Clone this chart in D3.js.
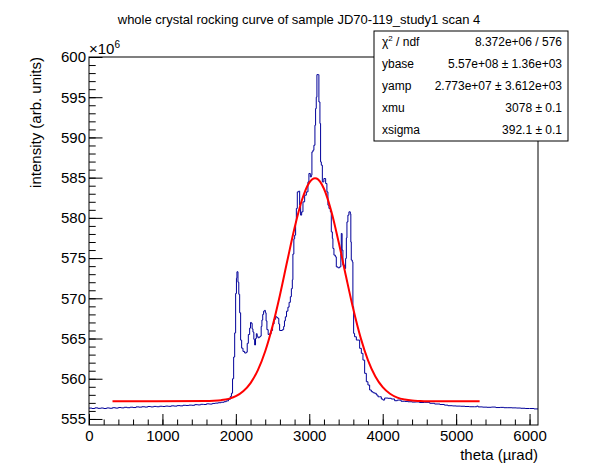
<!DOCTYPE html>
<html>
<head>
<meta charset="utf-8">
<script src="https://cdn.jsdelivr.net/npm/d3@7/dist/d3.min.js"></script>
<style>
  html, body { margin: 0; padding: 0; background: #ffffff; }
  svg { display: block; }
  text { font-family: "Liberation Sans", Arial, Helvetica, sans-serif; fill: #000; }
</style>
</head>
<body>
<svg id="chart" width="598" height="474"></svg>
<script>
// ---------------- data ----------------
const chartTitle = "whole crystal rocking curve of sample JD70-119_study1 scan 4";
const xTitle = "theta (\u00b5rad)";
const yTitle = "intensity (arb. units)";

// histogram: theta (µrad) and intensity (×10^6)
const histTheta = [
  0, 40, 80, 120, 160, 200, 240, 280, 320, 360, 400, 440, 480, 520, 560, 600, 640, 680, 720, 760,
  800, 840, 880, 920, 960, 1000, 1040, 1080, 1120, 1160, 1200, 1240, 1280, 1320, 1360, 1400, 1440, 1480, 1520, 1560,
  1600, 1640, 1680, 1720, 1760, 1800, 1840, 1870, 1900, 1925, 1940, 1955, 1970, 1984, 1997, 2008, 2015, 2029, 2040, 2052,
  2065, 2079, 2097, 2120, 2143, 2155, 2170, 2188, 2200, 2211, 2222, 2233, 2245, 2256, 2268, 2279, 2290, 2301, 2320, 2334,
  2345, 2355, 2366, 2378, 2390, 2402, 2412, 2423, 2440, 2460, 2480, 2500, 2520, 2542, 2560, 2573, 2585, 2596, 2615, 2633,
  2651, 2662, 2674, 2690, 2709, 2725, 2742, 2756, 2769, 2777, 2790, 2801, 2814, 2824, 2837, 2855, 2869, 2882, 2896, 2914,
  2937, 2960, 2982, 2995, 3014, 3028, 3036, 3050, 3063, 3077, 3086, 3095, 3104, 3123, 3131, 3145, 3154, 3164, 3178, 3199,
  3223, 3240, 3254, 3268, 3287, 3300, 3314, 3322, 3336, 3355, 3368, 3390, 3413, 3430, 3436, 3447, 3458, 3481, 3495, 3505,
  3513, 3526, 3540, 3559, 3566, 3572, 3586, 3594, 3604, 3617, 3641, 3662, 3686, 3709, 3731, 3754, 3777, 3799, 3822, 3845,
  3867, 3890, 3913, 3935, 3958, 3981, 4003, 4026, 4071, 4117, 4162, 4200, 4250, 4300, 4343, 4400, 4450, 4500, 4570, 4640,
  4707, 4780, 4840, 4888, 4950, 5000, 5060, 5120, 5180, 5251, 5280, 5300, 5360, 5420, 5480, 5540, 5600, 5650, 5705, 5760,
  5820, 5880, 5940, 6000, 6060, 6115
];
const histIntensity = [
  556.35, 556.30, 556.38, 556.32, 556.36, 556.30, 556.37, 556.33, 556.40, 556.35, 556.42, 556.38, 556.45, 556.40, 556.46, 556.42, 556.50, 556.47, 556.52, 556.48,
  556.55, 556.50, 556.56, 556.52, 556.58, 556.55, 556.60, 556.57, 556.63, 556.60, 556.66, 556.63, 556.70, 556.68, 556.72, 556.70, 556.78, 556.75, 556.82, 556.80,
  556.88, 556.85, 556.93, 556.97, 557.02, 557.08, 557.15, 557.25, 557.45, 557.80, 558.20, 560.00, 562.70, 565.70, 570.60, 572.50, 573.30, 572.00, 570.50, 568.20,
  564.80, 563.80, 563.40, 563.20, 563.30, 564.40, 565.50, 566.30, 567.00, 566.90, 566.20, 565.80, 564.90, 564.20, 565.00, 565.60, 565.30, 565.10, 565.20, 565.30,
  566.50, 567.30, 568.00, 568.40, 568.50, 568.20, 567.20, 566.10, 565.50, 565.60, 566.00, 566.80, 567.40, 567.70, 567.60, 567.50, 566.80, 566.00, 566.00, 566.10,
  566.50, 567.20, 567.70, 568.40, 568.90, 569.50, 570.20, 571.20, 572.30, 575.50, 577.40, 577.85, 579.50, 581.17, 583.23, 583.32, 581.58, 580.34, 580.75, 581.99,
  582.82, 583.23, 584.47, 585.52, 585.09, 585.30, 588.20, 588.41, 589.03, 591.52, 593.59, 595.00, 597.81, 597.81, 594.41, 591.73, 586.96, 586.55, 584.47, 584.89,
  584.27, 583.23, 581.58, 581.17, 580.75, 578.26, 577.44, 576.20, 575.37, 575.16, 573.91, 573.79, 573.91, 575.50, 578.06, 576.00, 574.12, 573.71, 574.96, 577.50,
  579.50, 580.34, 580.75, 580.50, 577.00, 574.75, 574.53, 568.94, 565.64, 565.22, 564.81, 564.81, 563.78, 563.16, 562.32, 560.67, 559.63, 559.22, 558.60, 558.39,
  558.26, 558.19, 557.98, 557.76, 557.76, 557.48, 557.35, 557.60, 557.57, 557.48, 557.27, 557.35, 557.20, 557.18, 557.14, 557.10, 557.12, 557.05, 557.07, 556.95,
  556.86, 556.80, 556.72, 556.65, 556.62, 556.60, 556.58, 556.55, 556.52, 556.52, 556.60, 556.50, 556.47, 556.45, 556.48, 556.42, 556.44, 556.40, 556.40, 556.38,
  556.36, 556.33, 556.30, 556.30, 556.25, 556.25
];

// fitted gaussian (red) (×10^6)
const fitTheta = [320, 1600, 1700, 1800, 1900, 2000, 2100, 2200, 2300, 2400, 2500, 2600, 2700, 2800, 2900, 3000, 3078,
  3100, 3200, 3300, 3400, 3500, 3600, 3700, 3800, 3900, 4000, 4100, 4200, 4300, 4400, 4500, 4600, 5320];
const fitIntensity = [557.20, 557.22, 557.26, 557.34, 557.50, 557.83, 558.44, 559.46, 561.07, 563.42, 566.56, 570.39, 574.63, 578.77, 582.22, 584.39, 584.93,
  584.89, 583.62, 580.82, 576.99, 572.74, 568.63, 565.08, 562.29, 560.28, 558.95, 558.13, 557.66, 557.42, 557.29, 557.24, 557.21, 557.20];

// axis ticks
const xMajorTicks = [0, 1000, 2000, 3000, 4000, 5000, 6000];
const xMinorTicks = d3.range(0, 6101, 200);
const yMajorTicks = [555, 560, 565, 570, 575, 580, 585, 590, 595, 600];
const yMinorTicks = d3.range(555, 600.5, 1);

// stats box
const statNames = ["\u03c7", "ybase", "yamp", "xmu", "xsigma"];
const statValues = ["8.372e+06 / 576", "5.57e+08 \u00b1 1.36e+03", "2.773e+07 \u00b1 3.612e+03", "3078 \u00b1 0.1", "392.1 \u00b1 0.1"];

// ---------------- drawing ----------------
const svg = d3.select("#chart");
const frame = { left: 89, right: 538, top: 57, bottom: 425 };

const x = d3.scaleLinear().domain([0, 6115]).range([frame.left, frame.right]);
const y = d3.scaleLinear().domain([554.25, 600]).range([frame.bottom, frame.top]);

svg.append("rect").attr("width", 598).attr("height", 474).attr("fill", "#fff");

// clip
svg.append("defs").append("clipPath").attr("id", "clip")
  .append("rect").attr("x", frame.left).attr("y", frame.top)
  .attr("width", frame.right - frame.left).attr("height", frame.bottom - frame.top);

// histogram
const histData = histTheta.map((t, i) => [t, histIntensity[i]]);
svg.append("path")
  .datum(histData)
  .attr("clip-path", "url(#clip)")
  .attr("fill", "none")
  .attr("stroke", "#000099")
  .attr("stroke-width", 1)
  .attr("d", d3.line().x(d => x(d[0])).y(d => y(d[1])).curve(d3.curveStepAfter));

// fit
const fitData = fitTheta.map((t, i) => [t, fitIntensity[i]]);
svg.append("path")
  .datum(fitData)
  .attr("clip-path", "url(#clip)")
  .attr("fill", "none")
  .attr("stroke", "#ff0000")
  .attr("stroke-width", 2)
  .attr("d", d3.line().x(d => x(d[0])).y(d => y(d[1])).curve(d3.curveMonotoneX));

// frame
svg.append("rect")
  .attr("x", frame.left).attr("y", frame.top)
  .attr("width", frame.right - frame.left).attr("height", frame.bottom - frame.top)
  .attr("fill", "none").attr("stroke", "#000").attr("stroke-width", 1);

// axes
const tickFont = "15px";
const xMinor = svg.append("g").attr("transform", `translate(0,${frame.bottom})`)
  .call(d3.axisBottom(x).tickValues(xMinorTicks).tickSizeInner(-5.5).tickSizeOuter(0).tickFormat(""));
const xMajor = svg.append("g").attr("transform", `translate(0,${frame.bottom})`)
  .call(d3.axisBottom(x).tickValues(xMajorTicks).tickSizeInner(-11).tickSizeOuter(0).tickPadding(5).tickFormat(d3.format("d")));
const yMinor = svg.append("g").attr("transform", `translate(${frame.left},0)`)
  .call(d3.axisLeft(y).tickValues(yMinorTicks).tickSizeInner(-6.7).tickSizeOuter(0).tickFormat(""));
const yMajor = svg.append("g").attr("transform", `translate(${frame.left},0)`)
  .call(d3.axisLeft(y).tickValues(yMajorTicks).tickSizeInner(-13.5).tickSizeOuter(0).tickPadding(3).tickFormat(d3.format("d")));

[xMinor, xMajor, yMinor, yMajor].forEach(g => {
  g.select(".domain").remove();
  g.selectAll("line").attr("stroke", "#000").attr("stroke-width", 1);
  g.selectAll("text").style("font-size", tickFont).style("font-family", "Liberation Sans, Arial, sans-serif").attr("fill", "#000");
});

// exponent label
const expo = svg.append("text").attr("x", frame.left).attr("y", 54).style("font-size", "15px");
expo.append("tspan").text("\u00d710");
expo.append("tspan").attr("dy", -6).style("font-size", "10px").text("6");

// titles
svg.append("text").attr("x", 299).attr("y", 24).attr("text-anchor", "middle")
  .style("font-size", "13px").text(chartTitle);
svg.append("text").attr("x", frame.right).attr("y", 460).attr("text-anchor", "end")
  .style("font-size", "15px").text(xTitle);
svg.append("text").attr("transform", `translate(41,${frame.top}) rotate(-90)`).attr("text-anchor", "end")
  .style("font-size", "15px").text(yTitle);

// stats box
const box = { x: 374, y: 31, w: 194, h: 110 };
svg.append("rect").attr("x", box.x).attr("y", box.y).attr("width", box.w).attr("height", box.h)
  .attr("fill", "#fff").attr("stroke", "#000").attr("stroke-width", 1);
const rowH = box.h / statNames.length;
statNames.forEach((n, i) => {
  const cy = box.y + rowH * (i + 0.5) + 4;
  const t = svg.append("text").attr("x", box.x + 8).attr("y", cy).style("font-size", "12px");
  t.append("tspan").text(n);
  if (i === 0) {
    t.append("tspan").attr("dy", -5).style("font-size", "8px").text("2");
    t.append("tspan").attr("dy", 5).text(" / ndf");
  }
  svg.append("text").attr("x", box.x + box.w - 6).attr("y", cy).attr("text-anchor", "end")
    .style("font-size", "12px").text(statValues[i]);
});
</script>
</body>
</html>
